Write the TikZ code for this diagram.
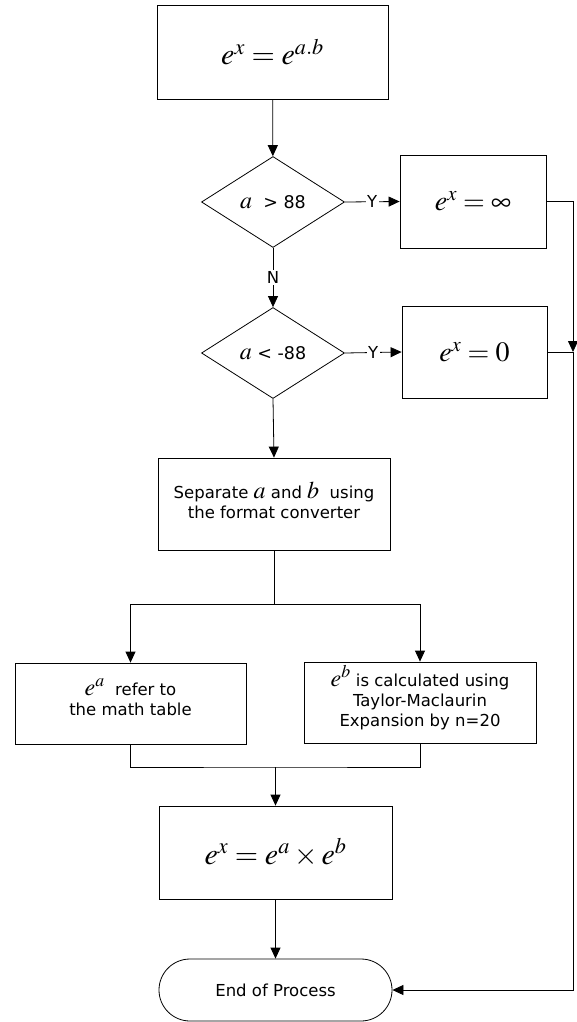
\documentclass[tikz,border=0pt]{standalone}
\usepackage{mathptmx}
\usepackage[no-math]{fontspec}
\setmainfont{DejaVu Sans}
\usetikzlibrary{shapes.geometric,arrows.meta}
\newcommand{\mi}[1]{{\fontsize{24}{24}\selectfont$#1$}}
\tikzset{
  blk/.style={draw, rectangle, inner sep=0pt},
  dec/.style={draw, diamond, inner sep=0pt, minimum width=143pt, minimum height=91pt, font=\fontsize{17.5}{17.5}\selectfont},
  arr/.style={-{Triangle[length=11pt,width=10pt]}},
  lbl/.style={fill=white, inner sep=1.5pt, font=\fontsize{16.5}{16.5}\selectfont},
  txt/.style={align=center, inner sep=0pt, font=\fontsize{16.5}{20}\selectfont},
  bigmath/.style={font=\fontsize{30}{30}\selectfont},
  midmath/.style={font=\fontsize{28}{28}\selectfont},
}
\begin{document}
\begin{tikzpicture}[x=1pt,y=-1pt,line width=0.8pt]
\useasboundingbox (0,0) rectangle (576,1022);
% nodes
\node[blk, minimum width=231pt, minimum height=94pt, bigmath] (start) at (272.5,52) {$e^{x} = e^{a.b}$};
\node[dec] (d1) at (273,202) {\mi{a}\ \ > 88};
\node[blk, minimum width=146pt, minimum height=93pt, midmath] (inf) at (473,201.5) {$e^{x}=\infty$};
\node[dec] (d2) at (273,353) {\mi{a} < -88};
\node[blk, minimum width=145pt, minimum height=92pt, midmath] (zero) at (474.5,352) {$e^{x}=0$};
\node[blk, minimum width=232pt, minimum height=92pt] (sep) at (274,504) {};
\node[txt] (sept) at ([yshift=4pt]sep.center) {Separate\ \mi{a}\ and\ \mi{b}\ \ using\\the format converter};
\node[blk, minimum width=231pt, minimum height=81pt] (ea) at (130.5,703.5) {};
\node[txt] (eat) at ([yshift=6pt]ea.center) {\mi{e^{a}}\ \ refer to\\the math table};
\node[blk, minimum width=232pt, minimum height=81pt] (eb) at (420,702.5) {};
\node[txt] (ebt) at ([yshift=5pt]eb.center) {\mi{e^{b}} is calculated using\\Taylor-Maclaurin\\Expansion by n=20};
\node[blk, minimum width=233pt, minimum height=93pt, bigmath] (prod) at (275.5,852.5) {$e^{x}=e^{a}\times e^{b}$};
\node[blk, rounded corners=31pt, minimum width=233pt, minimum height=62pt, txt] (end) at (275.5,990) {End of Process};
% junctions
\coordinate (split) at (274,604);
\coordinate (merge) at (275.5,767);
\coordinate (j) at (573,352);
% connectors
\draw[arr] (start) -- (d1);
\draw[arr] (d1.east) -- node[lbl]{Y} (inf.west);
\draw[arr] (d1.south) -- node[lbl]{N} (d2.north);
\draw[arr] (d2.east) -- node[lbl]{Y} (zero.west);
\draw[arr] (d2.south) -- (sep.north);
\draw (sep.south) -- (split);
\draw[arr] (split) -| (ea.north);
\draw[arr] (split) -| (eb.north);
\draw (ea.south) |- (merge) -| (eb.south);
\draw[arr] (merge) -- (prod.north);
\draw[arr] (prod.south) -- (end.north);
\draw[arr] (inf.east) -| (j);
\draw (zero.east) -- (j);
\draw[arr] (j) |- (end.east);
\end{tikzpicture}
\end{document}
